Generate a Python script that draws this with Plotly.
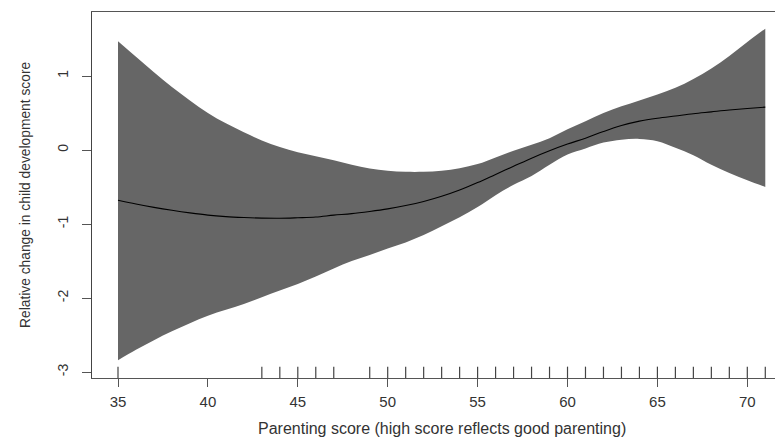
import plotly.graph_objects as go

# Parenting score grid
score = list(range(35, 72))

# Fitted relative change (smooth)
fit = [-0.68, -0.73, -0.775, -0.815, -0.85, -0.88, -0.90, -0.912, -0.92, -0.922,
       -0.915, -0.905, -0.88, -0.86, -0.83, -0.795, -0.75, -0.695, -0.625, -0.54,
       -0.44, -0.33, -0.22, -0.11, -0.01, 0.08, 0.16, 0.25, 0.33, 0.39,
       0.43, 0.46, 0.49, 0.515, 0.54, 0.56, 0.58]

upper = [1.47, 1.26, 1.05, 0.85, 0.67, 0.50, 0.36, 0.24, 0.13, 0.04,
         -0.03, -0.085, -0.14, -0.20, -0.25, -0.28, -0.295, -0.295, -0.28, -0.245,
         -0.19, -0.10, -0.01, 0.07, 0.16, 0.28, 0.39, 0.50, 0.59, 0.67,
         0.75, 0.84, 0.96, 1.10, 1.27, 1.46, 1.64]

lower = [-2.84, -2.70, -2.57, -2.45, -2.34, -2.24, -2.16, -2.08, -1.99, -1.90,
         -1.81, -1.71, -1.60, -1.50, -1.42, -1.33, -1.25, -1.15, -1.03, -0.91,
         -0.77, -0.61, -0.47, -0.35, -0.20, -0.06, 0.02, 0.10, 0.14, 0.15,
         0.12, 0.03, -0.07, -0.20, -0.31, -0.41, -0.50]

# Observed scores (rug)
rug = [35, 43, 44, 45, 46, 47] + list(range(49, 72))

x_ticks = [35, 40, 45, 50, 55, 60, 65, 70]
y_ticks = [-3, -2, -1, 0, 1]

x_title = "Parenting score (high score reflects good parenting)"
y_title = "Relative change in child development score"

fig = go.Figure()
fig.add_trace(go.Scatter(x=score, y=lower, mode="lines", line=dict(width=0, color="#666666", shape="spline"),
                         showlegend=False, hoverinfo="skip"))
fig.add_trace(go.Scatter(x=score, y=upper, mode="lines", line=dict(width=0, color="#666666", shape="spline"),
                         fill="tonexty", fillcolor="#666666", showlegend=False, hoverinfo="skip"))
fig.add_trace(go.Scatter(x=score, y=fit, mode="lines", line=dict(width=1.1, color="#000000", shape="spline"),
                         showlegend=False))

for r in rug:
    fig.add_shape(type="line", xref="x", yref="paper", x0=r, x1=r, y0=0, y1=0.031,
                  line=dict(color="#444444", width=1.2))

fig.add_annotation(text=x_title, xref="paper", yref="paper", x=0.5065, y=-0.137,
                   xanchor="center", yanchor="middle", showarrow=False,
                   font=dict(size=16, color="#333333"))
fig.add_annotation(text=y_title, xref="paper", yref="paper", x=-0.097, y=0.5,
                   xanchor="center", yanchor="middle", showarrow=False, textangle=-90,
                   font=dict(size=13.8, color="#333333"))

fig.update_layout(
    width=783, height=445,
    margin=dict(l=84, r=8, t=4, b=75, autoexpand=False),
    paper_bgcolor="white", plot_bgcolor="white",
    font=dict(family="Liberation Sans, Arial, sans-serif", color="#333333"),
    xaxis=dict(range=[33.554, 71.985], tickvals=x_ticks, ticktext=[str(v) for v in x_ticks],
               showgrid=False, zeroline=False, showline=True, linecolor="#555555", linewidth=1.2,
               mirror=True, ticks="outside", ticklen=8, tickcolor="#555555", tickwidth=1.2,
               tickfont=dict(size=15), automargin=False, ticklabelstandoff=2),
    yaxis=dict(range=[-3.081, 1.865], tickvals=y_ticks, ticktext=[str(v) for v in y_ticks],
               showgrid=False, zeroline=False, showline=True, linecolor="#444444", linewidth=1.2,
               ticks="outside", ticklen=9, tickcolor="#555555", tickwidth=1.2,
               tickangle=-90, tickfont=dict(size=14), automargin=False, ticklabelstandoff=8),
)

fig.write_html("out.html")
